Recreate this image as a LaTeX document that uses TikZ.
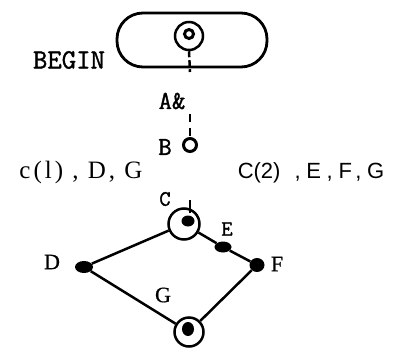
\documentclass[tikz,border=0pt]{standalone}
\usepackage{fontspec}
\usetikzlibrary{shapes.geometric}
\newfontfamily\ttb[FakeBold=1.3]{Latin Modern Mono}
\newfontfamily\seriff[FakeBold=0.8]{Liberation Serif}
\newfontfamily\serifsp[LetterSpace=12]{Liberation Serif}
\newfontfamily\sansf{Liberation Sans}
\newfontfamily\sanssp[LetterSpace=26]{Liberation Sans}
\tikzset{
  lw/.style={line width=2.5pt},
  ring/.style={circle, draw, line width=2.5pt, inner sep=0pt},
  blob/.style={ellipse, fill, draw=none, inner sep=0pt},
  tlab/.style={inner sep=0pt},
  slab/.style={inner sep=0pt, font=\seriff\fontsize{22}{24}\selectfont},
}
\begin{document}
\begin{tikzpicture}[x=1pt,y=-1pt]
\useasboundingbox (0,0) rectangle (395,350);
% BEGIN oval
\node[draw, line width=2.8pt, minimum width=150pt, minimum height=54pt, rounded corners=26pt] (oval) at (192,40) {};
\node[ring, minimum size=28pt] (st) at (189,36) {};
\node[ring, line width=3pt, minimum size=9pt] (st2) at (189,34) {};
\node[tlab, font=\ttb\fontsize{28}{30}\selectfont] (beg) at (69,60) {BEGIN};
\coordinate (a1) at (190,72);
\draw[lw, dash pattern=on 6pt off 3pt] (st.south) -- (a1);
% A& and B
\node[tlab, font=\ttb\fontsize{26}{28}\selectfont] (alab) at (172,101) {A\&};
\coordinate (a2) at (190,114);
\node[ring, line width=3pt, minimum size=13pt] (b) at (190,145) {};
\draw[lw, dash pattern=on 8pt off 6pt] (a2) -- (b.north);
\node[tlab, font=\ttb\fontsize{26}{28}\selectfont] (blab) at (165,147) {B};
% side texts
\node[inner sep=0pt, font=\serifsp\fontsize{25}{28}\selectfont] (left) at (81,172) {c(l) , D, G};
\node[inner sep=0pt, font=\sansf\fontsize{22}{24}\selectfont] (right) at (311,173) {C(2)\hspace{14pt}{\sanssp,E,F,G}};
% C node
\node[tlab, font=\ttb\fontsize{22}{24}\selectfont] (clab) at (165,199) {C};
\node[ring, minimum size=31pt] (C) at (184,224) {};
\node[blob, minimum width=13pt, minimum height=11pt] (Cd) at (188,221) {};
\coordinate (ctop) at (190,200);
\coordinate (cbot) at (190,213);
\draw[lw] (ctop) -- (cbot);
% E, F, D
\node[blob, minimum width=17pt, minimum height=11pt] (E) at (223,247) {};
\node[tlab, font=\ttb\fontsize{22}{24}\selectfont] (elab) at (227,229) {E};
\node[blob, minimum width=15pt, minimum height=14pt] (F) at (257,265) {};
\node[slab] (flab) at (277,264) {F};
\node[blob, minimum width=18pt, minimum height=12pt] (D) at (84,267) {};
\node[slab] (dlab) at (52,262) {D};
% G node
\node[ring, minimum size=29pt] (G) at (189,332) {};
\node[blob, minimum width=12pt, minimum height=14pt] (Gd) at (188,329) {};
\node[slab] (glab) at (163,295) {G};
% connectors
\draw[lw] (C) -- (E) -- (F);
\draw[lw] (C) -- (D);
\draw[lw] (D) -- (G);
\draw[lw] (G) -- (F);
\end{tikzpicture}
\end{document}
